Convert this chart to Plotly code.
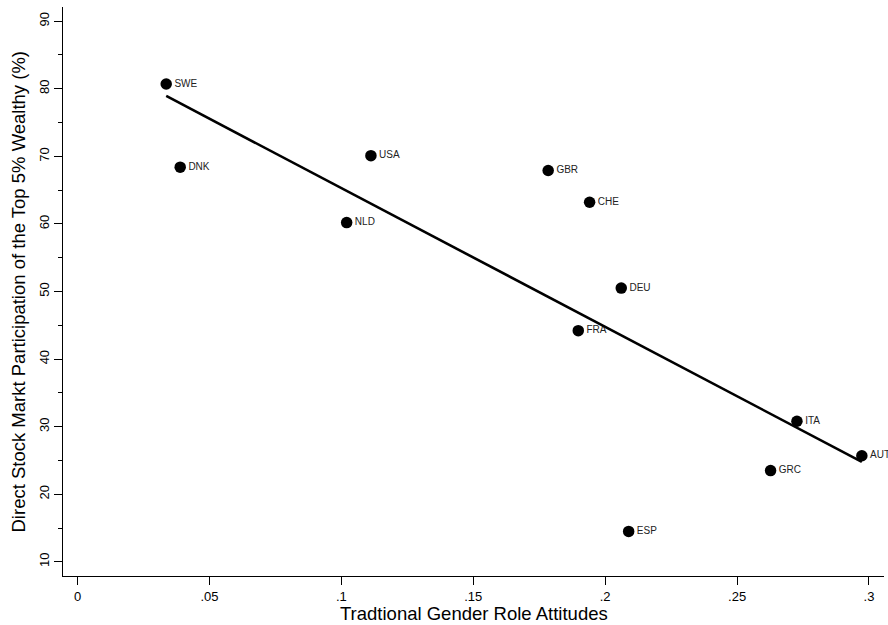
import numpy as np
import plotly.graph_objects as go

countries = ["SWE", "DNK", "USA", "NLD", "GBR", "CHE", "DEU", "FRA", "ESP", "ITA", "AUT", "GRC"]
gender_attitudes = [0.0336, 0.0389, 0.1112, 0.1020, 0.1784, 0.1941, 0.2061, 0.1898, 0.2089, 0.2727, 0.2973, 0.2627]
stock_participation = [80.7, 68.4, 70.1, 60.2, 67.9, 63.2, 50.5, 44.2, 14.5, 30.8, 25.7, 23.5]

x_tickvals = [0, 0.05, 0.1, 0.15, 0.2, 0.25, 0.3]
x_ticktext = ["0", ".05", ".1", ".15", ".2", ".25", ".3"]
y_tickvals = [10, 20, 30, 40, 50, 60, 70, 80, 90]
y_ticktext = ["10", "20", "30", "40", "50", "60", "70", "80", "90"]

x_title = "Tradtional Gender Role Attitudes"
y_title = "Direct Stock Markt Participation of the Top 5% Wealthy (%)"

xa = np.array(gender_attitudes)
ya = np.array(stock_participation)
slope, intercept = np.polyfit(xa, ya, 1)
fit_x = np.array([xa.min(), xa.max()])
fit_y = intercept + slope * fit_x

FONT = "Liberation Sans, Arial, Helvetica, sans-serif"

fig = go.Figure()
fig.add_trace(go.Scatter(
    x=gender_attitudes, y=stock_participation, mode="markers+text",
    text=countries, textposition="middle right",
    textfont=dict(size=10, color="#222222", family=FONT),
    marker=dict(size=11.5, color="black"),
    showlegend=False, hoverinfo="skip", cliponaxis=False,
))
fig.add_trace(go.Scatter(
    x=fit_x, y=fit_y, mode="lines",
    line=dict(color="black", width=2.6),
    showlegend=False, hoverinfo="skip",
))

fig.update_layout(
    width=888, height=625,
    margin=dict(l=63, r=4, t=7, b=49),
    paper_bgcolor="white", plot_bgcolor="white",
    font=dict(family=FONT, color="black"),
    xaxis=dict(
        range=[-0.00553, 0.3057],
        tickvals=x_tickvals, ticktext=x_ticktext,
        ticks="outside", ticklen=8, tickwidth=1.3, tickcolor="black",
        showline=True, linecolor="black", linewidth=1.4,
        showgrid=False, zeroline=False, automargin=False,
        tickfont=dict(size=13),
    ),
    yaxis=dict(
        range=[7.9, 92.1],
        tickvals=y_tickvals, ticktext=y_ticktext,
        ticks="outside", ticklen=8, tickwidth=1.3, tickcolor="black",
        tickangle=-90,
        showline=True, linecolor="black", linewidth=1.4,
        showgrid=False, zeroline=False, automargin=False,
        tickfont=dict(size=13),
        minor=dict(tickmode="linear", tick0=5, dtick=10, ticks="outside", ticklen=4, tickwidth=1.3, tickcolor="black"),
    ),
    annotations=[
        dict(text=x_title, xref="paper", yref="paper", x=0.5, y=0, yshift=-37,
             xanchor="center", yanchor="middle", showarrow=False, font=dict(size=18.5)),
        dict(text=y_title, xref="paper", yref="paper", x=0, y=0.5, xshift=-45,
             xanchor="center", yanchor="middle", textangle=-90, showarrow=False, font=dict(size=18.5)),
    ],
)

fig.write_html("out.html", config={"displayModeBar": False},
               post_script="document.body.style.margin='0';")
